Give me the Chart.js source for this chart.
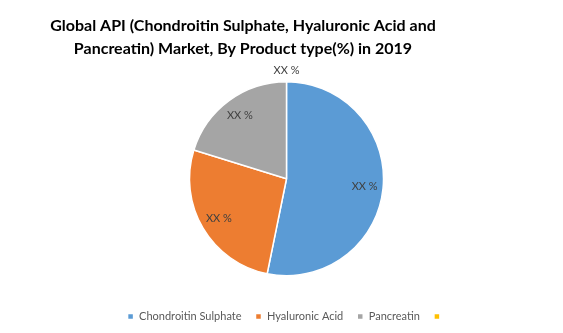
<!DOCTYPE html>
<html>
<head>
<meta charset="utf-8">
<script src="https://cdn.jsdelivr.net/npm/chart.js@4"></script>
<style>
    html, body { margin: 0; padding: 0; background: #fff; }
    .api-chart-wrap { width: 563px; height: 333px; position: relative; }
</style>
</head>
<body>
<div class="api-chart-wrap"><canvas id="apiPieChart"></canvas></div>
<script>
    // chart data
    var chartTitle = ['Global API (Chondroitin Sulphate, Hyaluronic Acid and', 'Pancreatin) Market, By Product type(%) in 2019'];
    var productTypes = ['Chondroitin Sulphate', 'Hyaluronic Acid', 'Pancreatin', ''];
    var shareValues = [53.2, 26.6, 20.2, 0];
    var sliceLabels = ['XX %', 'XX %', 'XX %', 'XX %'];
    var sliceColors = ['#5B9BD5', '#ED7D31', '#A5A5A5', '#FFC000'];

    var fontFamily = 'Lato, "Open Sans", sans-serif';

    // title drawn left of centre like the original
    var titlePlugin = {
        id: 'apiTitle',
        afterDraw: function (chart) {
            var ctx = chart.ctx;
            ctx.save();
            ctx.font = 'bold 16px ' + fontFamily;
            ctx.fillStyle = '#000000';
            ctx.textAlign = 'center';
            ctx.textBaseline = 'middle';
            for (var i = 0; i < chartTitle.length; i++) {
                ctx.fillText(chartTitle[i], 243, 25.5 + i * 23);
            }
            ctx.restore();
        }
    };

    // "XX %" labels on each slice
    var sliceLabelPlugin = {
        id: 'apiSliceLabels',
        afterDatasetsDraw: function (chart) {
            var ctx = chart.ctx;
            var meta = chart.getDatasetMeta(0);
            ctx.save();
            ctx.font = '11px ' + fontFamily;
            ctx.fillStyle = '#404040';
            ctx.textAlign = 'center';
            ctx.textBaseline = 'middle';
            meta.data.forEach(function (arc, i) {
                var p = arc.getProps(['x', 'y', 'startAngle', 'endAngle', 'outerRadius'], true);
                var mid = (p.startAngle + p.endAngle) / 2;
                var r = shareValues[i] > 0 ? p.outerRadius * 0.81 : p.outerRadius + 11;
                ctx.fillText(sliceLabels[i], p.x + Math.cos(mid) * r, p.y + Math.sin(mid) * r);
            });
            ctx.restore();
        }
    };

    var config = {
        type: 'pie',
        data: {
            labels: productTypes,
            datasets: [{
                data: shareValues,
                backgroundColor: sliceColors,
                borderColor: '#ffffff',
                borderWidth: 1.5
            }]
        },
        options: {
            responsive: true,
            maintainAspectRatio: false,
            animation: false,
            layout: { padding: { top: 81, bottom: 1, left: 10 } },
            plugins: {
                legend: {
                    display: true,
                    position: 'bottom',
                    // empty legend title only used as spacer above the items
                    title: { display: true, text: '', font: { size: 10 }, padding: { top: 8.5, bottom: 0 } },
                    labels: {
                        boxWidth: 6,
                        boxHeight: 6,
                        padding: 14,
                        color: '#595959',
                        font: { family: fontFamily, size: 11 }
                    }
                },
                tooltip: { enabled: false }
            }
        },
        plugins: [titlePlugin, sliceLabelPlugin]
    };

    new Chart(document.getElementById('apiPieChart').getContext('2d'), config);
</script>
</body>
</html>
